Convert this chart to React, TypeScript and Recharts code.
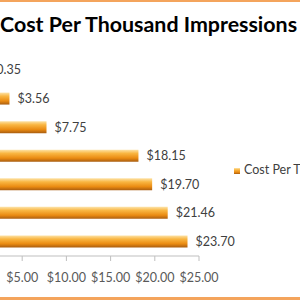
import { Bar, BarChart, LabelList, Legend, XAxis, YAxis } from "recharts";

const categories = ["Site A", "Site B", "Site C", "Site D", "Site E", "Site F", "Site G"];
const cpmValues = [0.35, 3.56, 7.75, 18.15, 19.7, 21.46, 23.7];
const xTicks = [0, 5, 10, 15, 20, 25];
const SERIES = "Cost Per Thousand Impressions";

const data = categories.map((name, i) => ({ name, cpm: cpmValues[i] }));

const FONT = "Lato, 'Open Sans', sans-serif";
const money = (v: number) => `$${Number(v).toFixed(2)}`;

export default function App() {
  return (
    <div
      style={{
        position: "fixed", left: 0, top: 0, width: 300, height: 300,
        overflow: "hidden", background: "#ffffff", fontFamily: FONT,
      }}
    >
      {/* frame edges */}
      <div style={{ position: "absolute", left: 0, top: 0, width: 300, height: 2, background: "#f4a45c" }} />
      <div style={{ position: "absolute", left: 0, top: 297, width: 300, height: 3, background: "#f4a45c" }} />

      <div
        style={{
          position: "absolute", left: 0, top: 10, whiteSpace: "nowrap",
          fontSize: 21.4, fontWeight: 700, color: "#000", lineHeight: "28px",
        }}
      >
        Cost Per Thousand Impressions
      </div>

      <div style={{ position: "absolute", left: -100, top: 0 }}>
        <BarChart
          width={400}
          height={300}
          data={data}
          layout="vertical"
          margin={{ top: 56, right: 101, bottom: 13, left: 78 }}
          barSize={12}
        >
          <defs>
            <linearGradient id="cyl" x1="0" y1="0" x2="0" y2="1">
              <stop offset="0%" stopColor="#fde3a8" />
              <stop offset="30%" stopColor="#f9b642" />
              <stop offset="70%" stopColor="#ea8b12" />
              <stop offset="100%" stopColor="#a95d10" />
            </linearGradient>
          </defs>
          <XAxis
            type="number"
            domain={[0, 25]}
            ticks={xTicks}
            interval={0}
            tickFormatter={money}
            height={31}
            tickSize={5}
            tickMargin={12}
            stroke="#bfbfbf"
            tick={{ fill: "#595959", fontSize: 12.5, fontFamily: FONT }}
          />
          <YAxis type="category" dataKey="name" hide />
          <Legend
            layout="vertical"
            align="center"
            verticalAlign="middle"
            iconType="square"
            iconSize={6}
            wrapperStyle={{ left: 334, top: 162, width: 220, fontSize: 12.5, fontFamily: FONT, whiteSpace: "nowrap", textAlign: "left" }}
            formatter={(v) => <span style={{ color: "#404040" }}>{v}</span>}
          />
          <Bar dataKey="cpm" name={SERIES} fill="url(#cyl)" legendType="square" isAnimationActive={false}>
            <LabelList
              dataKey="cpm"
              position="right"
              offset={8}
              formatter={(v: number) => money(v)}
              style={{ fill: "#404040", fontSize: 12.5, fontFamily: FONT }}
            />
          </Bar>
        </BarChart>
      </div>
    </div>
  );
}
